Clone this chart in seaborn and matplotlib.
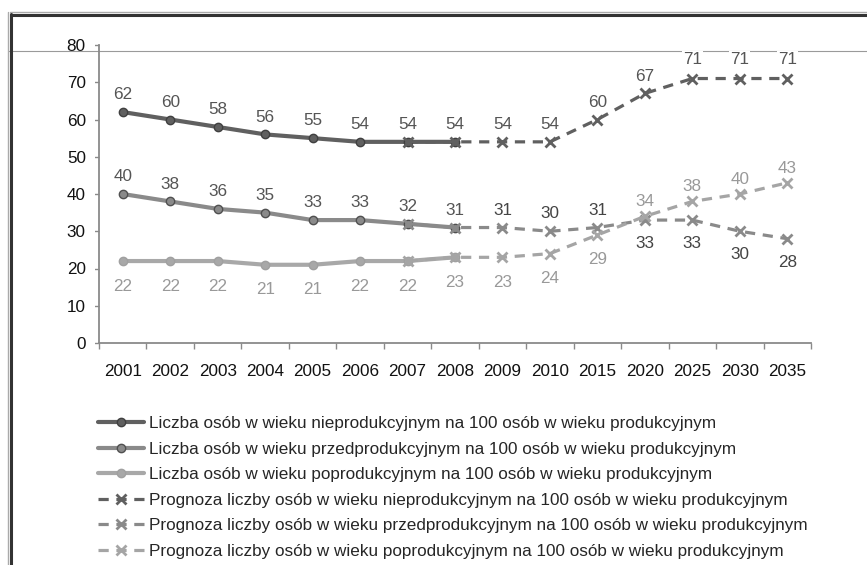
import numpy as np
import pandas as pd
import matplotlib.pyplot as plt
import seaborn as sns
from matplotlib.lines import Line2D

sns.set_style("white")
plt.rcParams['font.family'] = ['Liberation Sans', 'DejaVu Sans']

# dane
years = ['2001', '2002', '2003', '2004', '2005', '2006', '2007', '2008',
         '2009', '2010', '2015', '2020', '2025', '2030', '2035']
hist_years = years[:8]
prog_years = years[6:]

niepro = [62, 60, 58, 56, 55, 54, 54, 54]
przed = [40, 38, 36, 35, 33, 33, 32, 31]
popro = [22, 22, 22, 21, 21, 22, 22, 23]

niepro_prog = [54, 54, 54, 54, 60, 67, 71, 71, 71]
przed_prog = [32, 31, 31, 30, 31, 33, 33, 30, 28]
popro_prog = [22, 23, 23, 24, 29, 34, 38, 40, 43]

labels = [
    'Liczba osób w wieku nieprodukcyjnym na 100 osób w wieku produkcyjnym',
    'Liczba osób w wieku przedprodukcyjnym na 100 osób w wieku produkcyjnym',
    'Liczba osób w wieku poprodukcyjnym na 100 osób w wieku produkcyjnym',
    'Prognoza liczby osób w wieku nieprodukcyjnym na 100 osób w wieku produkcyjnym',
    'Prognoza liczby osób w wieku przedprodukcyjnym na 100 osób w wieku produkcyjnym',
    'Prognoza liczby osób w wieku poprodukcyjnym na 100 osób w wieku produkcyjnym',
]

pos = {y: i for i, y in enumerate(years)}
FS = 12.3

fig = plt.figure(figsize=(8.67, 5.65), dpi=100)
ax = fig.add_axes([99 / 867, 1 - 343 / 565, (811 - 99) / 867, (343 - 45) / 565])
ax.set_facecolor('none')

# ramka i szara linia (artefakt z oryginału)
ax.add_line(Line2D([8 / 867, 1], [1 - 51 / 565] * 2, color='#9a9a9a', lw=0.8,
                   transform=fig.transFigure, clip_on=False, zorder=1))
fig.add_artist(Line2D([10 / 867, 1], [1 - 12 / 565] * 2, color='#aaaaaa', lw=1.0))
fig.add_artist(Line2D([11 / 867, 1], [1 - 14.5 / 565] * 2, color='#333333', lw=2.2))
fig.add_artist(Line2D([8 / 867] * 2, [0, 1 - 12 / 565], color='#aaaaaa', lw=1.0))
fig.add_artist(Line2D([11 / 867] * 2, [0, 1 - 14 / 565], color='#333333', lw=2.2))

hist = [
    (niepro, '#606060', '#404040', labels[0]),
    (przed, '#8a8a8a', '#505050', labels[1]),
    (popro, '#a8a8a8', '#a0a0a0', labels[2]),
]
prog = [
    (niepro_prog, '#606060', labels[3]),
    (przed_prog, '#8a8a8a', labels[4]),
    (popro_prog, '#a5a5a5', labels[5]),
]

for vals, col, edge, lab in hist:
    df = pd.DataFrame({'x': [pos[y] for y in hist_years], 'y': vals})
    sns.lineplot(data=df, x='x', y='y', ax=ax, color=col, lw=3.0, marker='o',
                 markersize=6, markerfacecolor=col, markeredgecolor=edge,
                 markeredgewidth=1.0, label=lab, zorder=3)

for vals, col, lab in prog:
    df = pd.DataFrame({'x': [pos[y] for y in prog_years], 'y': vals})
    sns.lineplot(data=df, x='x', y='y', ax=ax, color=col, lw=2.3, marker='x',
                 markersize=7, markeredgewidth=2.0, markeredgecolor=col,
                 markerfacecolor=col, linestyle='--', label=lab, zorder=4)
    ax.lines[-1].set_dashes([3.2, 2.4])

# etykiety danych
def put(x, v, dy, color):
    ax.annotate(str(v), (x, v), xytext=(0, dy), textcoords='offset points',
                ha='center', va='center', fontsize=FS, color=color, zorder=6,
                bbox=dict(boxstyle='square,pad=0.05', fc='white', ec='none'))

for i, y in enumerate(hist_years):
    put(pos[y], niepro[i], 12.5, '#555555')
    put(pos[y], przed[i], 12.5, '#555555')
    put(pos[y], popro[i], -18, '#999999')

for i, y in enumerate(prog_years):
    if y in hist_years:
        continue
    dy = 14 if niepro_prog[i] >= 70 else 12.5
    put(pos[y], niepro_prog[i], dy, '#555555')
    if pos[y] >= pos['2020']:
        put(pos[y], przed_prog[i], -17, '#444444')
    else:
        put(pos[y], przed_prog[i], 12.5, '#444444')
    if pos[y] >= pos['2020']:
        put(pos[y], popro_prog[i], 10.5, '#999999')
    else:
        put(pos[y], popro_prog[i], -18, '#999999')

# osie
ax.set_xlim(-0.5, len(years) - 0.5)
ax.set_ylim(0, 80)
ax.set_yticks(range(0, 81, 10))
ax.set_xticks(range(len(years)))
ax.set_xticklabels(years)
ax.set_xticks(np.arange(-0.5, len(years), 1), minor=True)
ax.set_xlabel('')
ax.set_ylabel('')
for side in ['top', 'right']:
    ax.spines[side].set_visible(False)
for side in ['left', 'bottom']:
    ax.spines[side].set_color('#8a8a8a')
    ax.spines[side].set_linewidth(1.3)
ax.tick_params(axis='y', length=4.5, width=1.0, color='#8a8a8a', pad=5, labelsize=FS,
               labelcolor='#111111', left=True)
ax.tick_params(axis='x', which='major', length=0, pad=15, labelsize=FS, labelcolor='#111111')
ax.tick_params(axis='x', which='minor', length=4.5, width=1.0, color='#8a8a8a', bottom=True)
for t in ax.get_yticklabels():
    t.set_bbox(dict(boxstyle='square,pad=0.55', fc='white', ec='none'))

ax.legend(loc='upper left', bbox_to_anchor=(98 / 867, 1 - 416 / 565),
          bbox_transform=fig.transFigure, frameon=False, fontsize=FS,
          handlelength=2.7, handletextpad=0.3, labelspacing=0.62,
          borderpad=0, borderaxespad=0, numpoints=1)

fig.savefig('out.png', dpi=100)
plt.close(fig)
